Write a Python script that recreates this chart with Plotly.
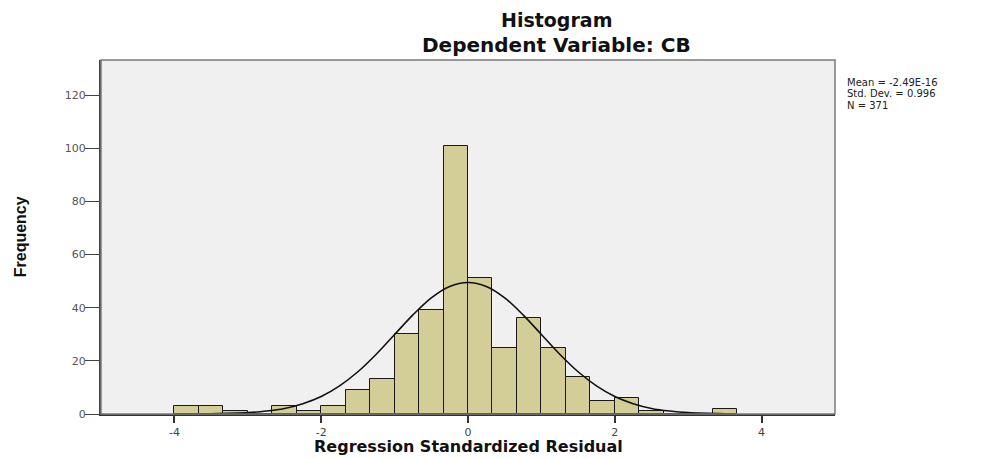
import plotly.graph_objects as go

# ---- data ----
bin_start = -4.0
bin_width = 1.0 / 3.0
counts = [3, 3, 1, 0, 3, 1, 3, 9, 13, 30, 39, 101,
          51, 25, 36, 25, 14, 5, 6, 1, 0, 0, 2]

curve_x = [-3.5, -3.0, -2.75, -2.5, -2.25, -2.0, -1.75, -1.5, -1.25, -1.0, -0.75, -0.5, -0.25,
           0.0, 0.25, 0.5, 0.75, 1.0, 1.25, 1.5, 1.75, 2.0, 2.25, 2.5, 2.75, 3.0, 3.5]
curve_y = [0.1, 0.5, 1.1, 2.1, 3.9, 6.6, 10.6, 15.9, 22.5, 29.9, 37.3, 43.7, 48.0,
           49.5, 48.0, 43.7, 37.3, 29.9, 22.5, 15.9, 10.6, 6.6, 3.9, 2.1, 1.1, 0.5, 0.1]

stats_lines = ["Mean = -2.49E-16", "Std. Dev. = 0.996", "N = 371"]
title_main = "Histogram"
title_sub = "Dependent Variable: CB"
x_title = "Regression Standardized Residual"
y_title = "Frequency"

bin_centers = [bin_start + (i + 0.5) * bin_width for i in range(len(counts))]

fig = go.Figure()
fig.add_trace(go.Bar(
    x=bin_centers, y=counts, width=bin_width,
    marker=dict(color="#D3CE97", line=dict(color="#1a1a1a", width=1)),
    showlegend=False, hoverinfo="skip"))
fig.add_trace(go.Scatter(
    x=curve_x, y=curve_y, mode="lines", line=dict(color="#111111", width=1.6, shape="spline"),
    showlegend=False, hoverinfo="skip"))

# page body adds an 8px margin, so the figure is sized to fill the rest of the window
fig.update_layout(
    width=993, height=450,
    margin=dict(l=93, r=166, t=52, b=44),
    paper_bgcolor="white", plot_bgcolor="#F0F0F0",
    bargap=0,
    xaxis=dict(range=[-5, 5], tickvals=[-4, -2, 0, 2, 4], ticktext=["-4", "-2", "0", "2", "4"],
               showgrid=False, zeroline=False, showline=True, linecolor="#333333", linewidth=1.5,
               ticks="outside", ticklen=7, tickcolor="#333333", tickwidth=1.5,
               tickfont=dict(family="DejaVu Sans", size=11, color="#444444")),
    yaxis=dict(range=[0, 133.2], tickvals=[0, 20, 40, 60, 80, 100, 120],
               showgrid=False, zeroline=False, showline=True, linecolor="#444444", linewidth=2,
               ticks="outside", ticklen=14, tickcolor="#444444", tickwidth=1.2,
               ticklabelstandoff=-3,
               tickfont=dict(family="DejaVu Sans", size=11, color="#555555")),
    shapes=[dict(type="rect", xref="paper", yref="paper", x0=0, x1=1, y0=0, y1=1,
                 line=dict(color="#7a7a7a", width=1.5), fillcolor="rgba(0,0,0,0)", layer="above")],
)

annotations = [
    dict(text="<b>" + title_main + "</b>", x=0.621, y=1.113, xref="paper", yref="paper",
         showarrow=False, xanchor="center", yanchor="middle",
         font=dict(family="DejaVu Sans", size=19, color="#111111")),
    dict(text="<b>" + title_sub + "</b>", x=0.621, y=1.0424, xref="paper", yref="paper",
         showarrow=False, xanchor="center", yanchor="middle",
         font=dict(family="DejaVu Sans", size=20, color="#111111")),
    dict(text="<b>" + x_title + "</b>", x=0.5, y=-0.093, xref="paper", yref="paper",
         showarrow=False, xanchor="center", yanchor="middle",
         font=dict(family="DejaVu Sans", size=16, color="#111111")),
    dict(text="<b>" + y_title + "</b>", x=-0.110, y=0.5, xref="paper", yref="paper",
         showarrow=False, xanchor="center", yanchor="middle", textangle=-90,
         font=dict(family="Liberation Sans", size=16, color="#111111")),
]
stat_y = [0.9364, 0.9040, 0.8715]
for line, yy in zip(stats_lines, stat_y):
    annotations.append(dict(text=line, x=1.015, y=yy, xref="paper", yref="paper",
                            showarrow=False, xanchor="left", yanchor="middle", borderpad=0,
                            font=dict(family="DejaVu Sans", size=10, color="#222222")))
fig.update_layout(annotations=annotations)

fig.write_html("out.html")
